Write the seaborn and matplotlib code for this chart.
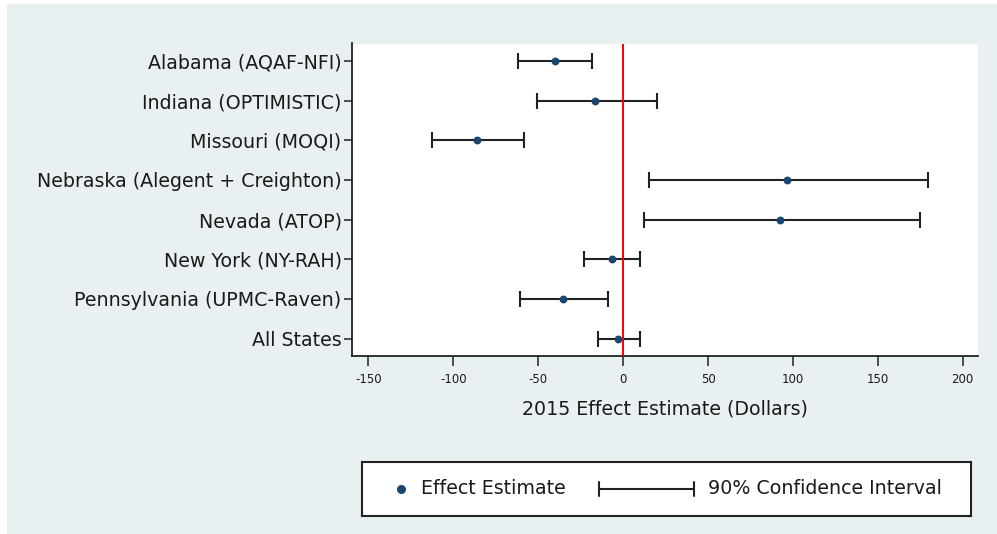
import numpy as np
import pandas as pd
import matplotlib
matplotlib.use("Agg")
import matplotlib.pyplot as plt
from matplotlib.patches import Rectangle
import seaborn as sns

states = ["Alabama (AQAF-NFI)", "Indiana (OPTIMISTIC)", "Missouri (MOQI)",
          "Nebraska (Alegent + Creighton)", "Nevada (ATOP)", "New York (NY-RAH)",
          "Pennsylvania (UPMC-Raven)", "All States"]
estimate = [-40.2, -16.6, -86.2, 96.5, 92.4, -6.6, -35.3, -3.0]
ci_low = [-61.8, -50.6, -112.7, 15.0, 12.4, -23.3, -60.6, -14.6]
ci_high = [-18.6, 20.0, -58.4, 179.8, 174.7, 9.8, -8.8, 10.2]
xticks = [-150, -100, -50, 0, 50, 100, 150, 200]

sns.set_style("white")
plt.rcParams['font.family'] = ['DejaVu Sans']

df = pd.DataFrame({"state": states, "estimate": estimate,
                   "lo": ci_low, "hi": ci_high})
df["pos"] = np.arange(1, len(df) + 1)

W, H = 997, 534
fig = plt.figure(figsize=(W / 100, H / 100), dpi=100)
fig.patch.set_facecolor("white")
bgc = "#e8f0f2"
fig.patches.append(Rectangle((7 / W, 0), 1 - 7 / W, 1 - 4 / H,
                             transform=fig.transFigure, facecolor=bgc,
                             edgecolor="none", zorder=-10))

left, right, top, bottom = 351.5, 978, 43.5, 356
ax = fig.add_axes([left / W, 1 - bottom / H, (right - left) / W, (bottom - top) / H])
ax.set_facecolor("white")

navy = "#1a476f"
ebc = "#222222"
fs = 13.7
ax.errorbar(df["estimate"], df["pos"],
            xerr=[df["estimate"] - df["lo"], df["hi"] - df["estimate"]],
            fmt="none", ecolor=ebc, elinewidth=1.5, capsize=5.5, capthick=1.5,
            zorder=2)
ax.axvline(0, color="#ff0000", lw=1.4, zorder=3)
sns.scatterplot(data=df, x="estimate", y="pos", ax=ax, color=navy, s=32,
                marker="o", edgecolor=navy, linewidth=0, zorder=4)

ax.set_xlim(-160, 209)
ax.set_ylim(8.44, 0.56)
ax.set_yticks(df["pos"])
ax.set_yticklabels(states, fontsize=fs, color="#1a1a1a")
ax.set_xticks(xticks)
ax.set_xticklabels([str(t) for t in xticks], fontsize=8.5, color="#1a1a1a")
ax.tick_params(axis="y", length=6, width=1.1, pad=1.2, color="#222222", left=True)
ax.tick_params(axis="x", length=7, width=1.1, pad=5, color="#222222", bottom=True)
ax.set_xlabel("2015 Effect Estimate (Dollars)", fontsize=fs, color="#1a1a1a", labelpad=10)
ax.set_ylabel("")
for s in ["top", "right"]:
    ax.spines[s].set_visible(False)
for s in ["left", "bottom"]:
    ax.spines[s].set_color("#222222")
    ax.spines[s].set_linewidth(1.3)

# legend box
lx0, lx1, ly0, ly1 = 362, 971, 462, 516
lax = fig.add_axes([lx0 / W, 1 - ly1 / H, (lx1 - lx0) / W, (ly1 - ly0) / H])
lax.set_xlim(0, lx1 - lx0)
lax.set_ylim(0, ly1 - ly0)
lax.set_xticks([])
lax.set_yticks([])
lax.set_facecolor("white")
for s in lax.spines.values():
    s.set_color("#222222")
    s.set_linewidth(1.5)
yc = 27
lax.plot([39], [yc], marker="o", ms=5.5, color=navy, mec=navy)
lax.text(59, yc, "Effect Estimate", fontsize=fs, va="center", ha="left", color="#1a1a1a")
lax.plot([237, 331.5], [yc, yc], color=ebc, lw=1.5)
lax.plot([237, 237], [yc - 7, yc + 7], color=ebc, lw=1.5)
lax.plot([331.5, 331.5], [yc - 7, yc + 7], color=ebc, lw=1.5)
lax.text(345.5, yc, "90% Confidence Interval", fontsize=fs, va="center", ha="left", color="#1a1a1a")

fig.savefig("out.png", dpi=100)
